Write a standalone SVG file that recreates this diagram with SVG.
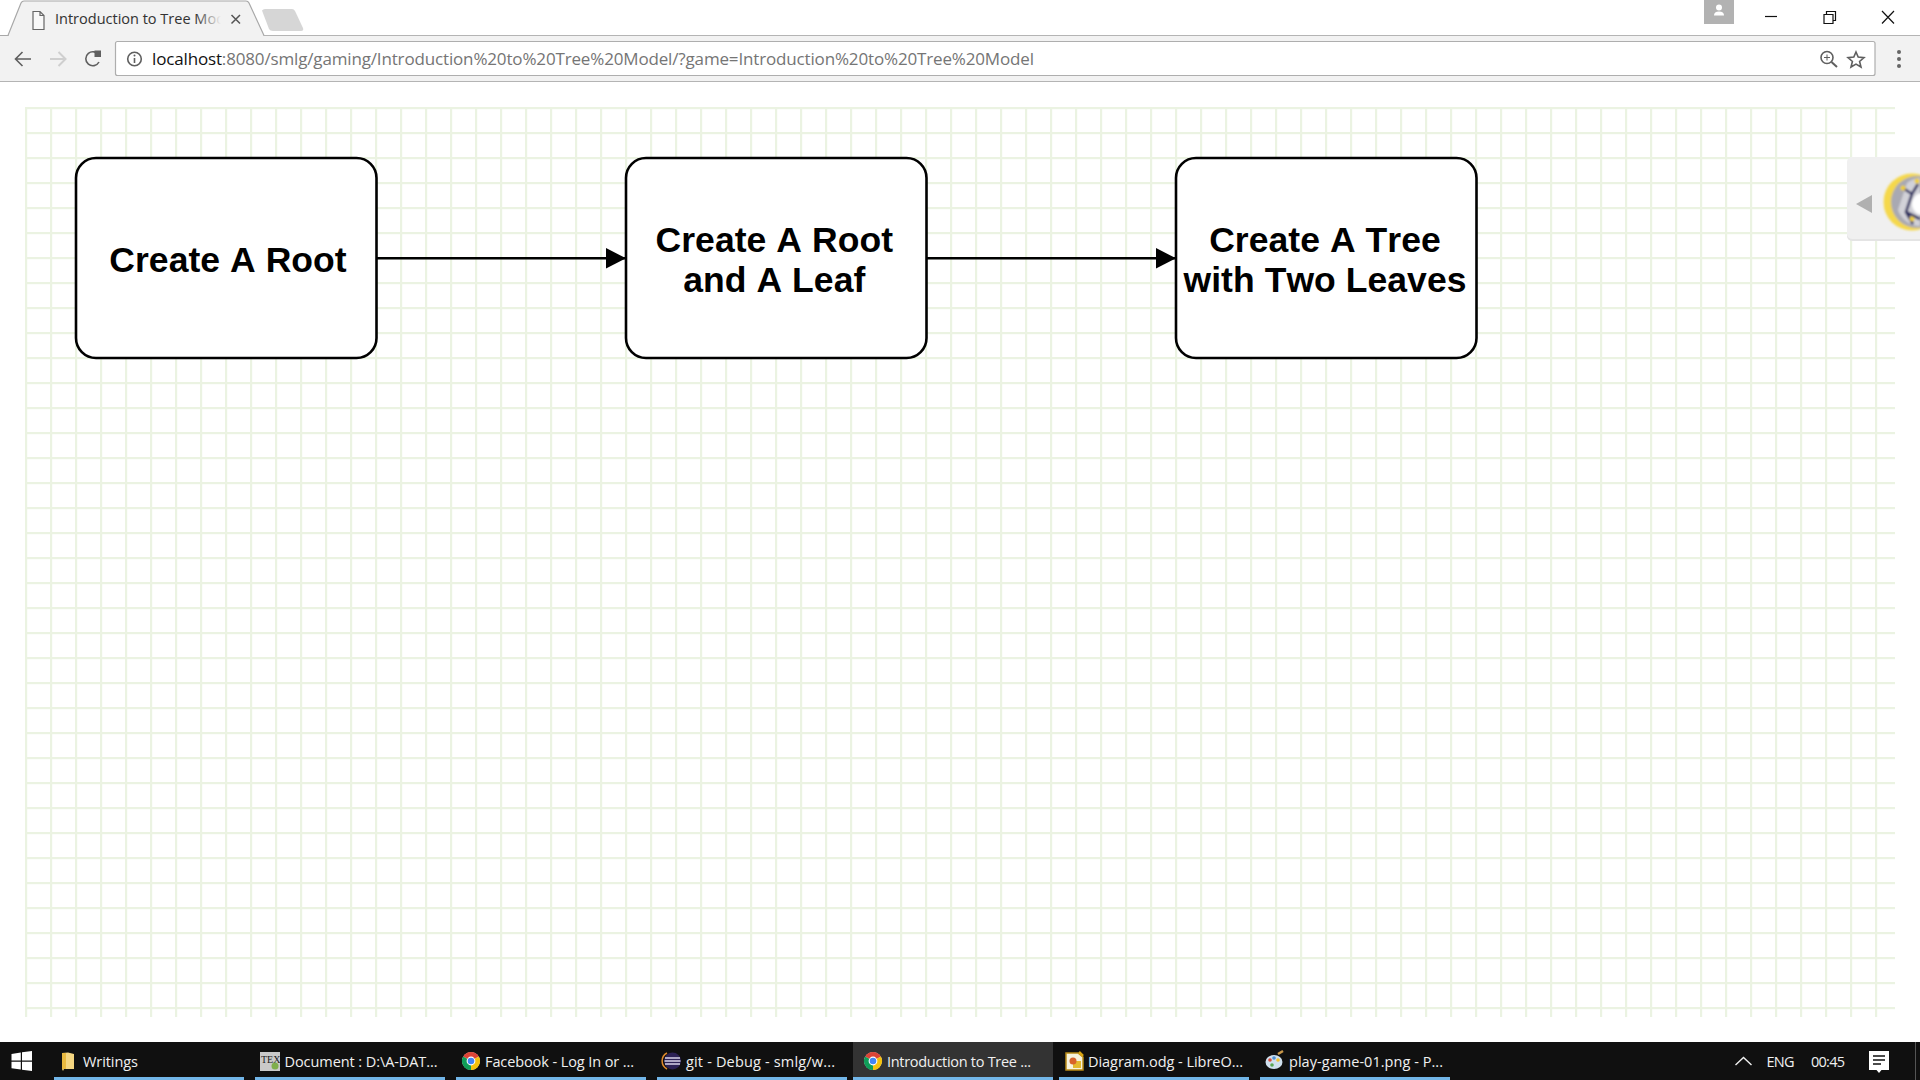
<svg xmlns="http://www.w3.org/2000/svg" xmlns:xlink="http://www.w3.org/1999/xlink" width="1920" height="1080" viewBox="0 0 1920 1080">
<style>
.ui{font-family:"Open Sans","Noto Sans","Liberation Sans",sans-serif}
.tb{font-size:14.5px;fill:#f0f0f0}
.node{fill:#fff;stroke:#000;stroke-width:2.6}
.lbl{font-family:"Liberation Sans",Arial,sans-serif;font-weight:700;font-size:35.5px;letter-spacing:.06px;font-kerning:none;fill:#000;text-anchor:middle}
.edge{stroke:#000;stroke-width:2.6;fill:none;marker-end:url(#tip)}
.ul{fill:#72b6e8}
.ic{fill:none;stroke:#5f5f5f;stroke-width:1.6}
.win{fill:none;stroke:#111;stroke-width:1.2}
</style>
<defs>
<pattern id="grid" x="25" y="107" width="25" height="25" patternUnits="userSpaceOnUse">
<rect width="2.200" height="25" fill="#ebf3e2"/><rect width="25" height="2.200" fill="#ebf3e2"/>
</pattern>
<filter id="soft" x="-10%" y="-10%" width="120%" height="120%"><feGaussianBlur stdDeviation="0.800"/></filter>
<marker id="tip" markerUnits="userSpaceOnUse" markerWidth="22" markerHeight="22" refX="20.5" refY="11" orient="auto">
<path d="M0 0.5L20.5 11L0 21.5Z" fill="#000"/>
</marker>
<linearGradient id="fade" gradientUnits="userSpaceOnUse" x1="196" y1="0" x2="221" y2="0">
<stop offset="0" stop-color="#333"/><stop offset="1" stop-color="#f2f2f2"/>
</linearGradient>
<g id="chrome">
<circle r="9" fill="#e8e8e8"/>
<path d="M0 0L-7.8 -4.5A9 9 0 0 1 7.8 -4.5Z" fill="#db4437"/>
<path d="M0 0L7.8 -4.5A9 9 0 0 1 0 9Z" fill="#f4c20d"/>
<path d="M0 0L0 9A9 9 0 0 1 -7.8 -4.5Z" fill="#0f9d58"/>
<circle r="4.4" fill="#fff"/><circle r="3.3" fill="#4285f4"/>
</g>
</defs>
<rect width="1920" height="1080" fill="#fff"/>

<g id="browser-chrome">
<rect x="0" y="35" width="1920" height="47" fill="#f2f2f2"/>
<path d="M0 35.500H1920M0 81.500H1920" stroke="#b4b4b4" stroke-width="1.200" fill="none"/>
<path d="M0 35.500H8L21 3Q22 1 24 1H246Q248 1 249 3L264 35.500" fill="#f2f2f2" stroke="#a8a8a8" stroke-width="1.200"/>
<rect x="9" y="35" width="254" height="2" fill="#f2f2f2"/>
<path d="M33 11.500H40L44 15.500V29.500H33ZM40 11.500V15.500H44" fill="#f8f8f8" stroke="#666" stroke-width="1.200"/>
<text class="ui" x="55" y="24" font-size="14.500" fill="url(#fade)" textLength="170">Introduction to Tree Mod</text>
<path d="M231.500 15L240 23.500M240 15L231.500 23.500" stroke="#555" stroke-width="1.500" fill="none"/>
<path d="M262 10.500Q263 9 265 9H292Q294 9 295 11L303 28Q304 31 301 31H273Q270 31 269 29Z" fill="#d6d6d6"/>
<path d="M31 59H16M22.500 52L15.500 59L22.500 66" class="ic" stroke-width="2"/>
<path d="M50 59H65M58.500 52L65.500 59L58.500 66" fill="none" stroke="#cfcfcf" stroke-width="2"/>
<path d="M99 62A7 7 0 1 1 99 55.500" class="ic" stroke-width="2.200"/>
<path d="M94.500 50.500H101V57H94.500Z" fill="#5f5f5f"/>
<rect x="115.500" y="41.500" width="1759.500" height="34" rx="2" fill="#fff" stroke="#aeaeae" stroke-width="1.200"/>
<circle cx="134.500" cy="59" r="6.800" class="ic"/>
<circle cx="134.500" cy="55.500" r="1" fill="#5f5f5f"/><rect x="133.700" y="58" width="1.600" height="5" fill="#5f5f5f"/>
<text class="ui" x="152" y="65" font-size="17px" fill="#757575" textLength="882"><tspan fill="#111">localhost</tspan>:8080/smlg/gaming/Introduction%20to%20Tree%20Model/?game=Introduction%20to%20Tree%20Model</text>
<circle cx="1827" cy="57.500" r="6" class="ic"/>
<path d="M1831.500 62L1837 67" stroke="#5f5f5f" stroke-width="2" fill="none"/>
<path d="M1824 57.500H1830M1827 54.500V60.500" stroke="#5f5f5f" stroke-width="1" fill="none"/>
<path d="M1856 52L1858.200 57L1864 57.700L1859.600 61.500L1861 67L1856 64.100L1851 67L1852.400 61.500L1848 57.700L1853.800 57Z" class="ic"/>
<circle cx="1899" cy="52" r="2" fill="#666"/><circle cx="1899" cy="59" r="2" fill="#666"/><circle cx="1899" cy="66" r="2" fill="#666"/>
<rect x="1704" y="0" width="30" height="24" fill="#b2b2b2"/>
<circle cx="1719" cy="7.500" r="3" fill="#fff"/><path d="M1714 15.500Q1714 11.500 1719 11.500Q1724 11.500 1724 15.500Z" fill="#fff"/>
<path d="M1765 16.500H1777" class="win"/>
<path d="M1824 14.500H1833V23.500H1824ZM1826.500 14.500V11.500H1835.500V20.500H1833" class="win"/>
<path d="M1882 11L1894 23.500M1894 11L1882 23.500" class="win"/>
</g>

<rect id="grid-paper" x="25" y="107" width="1870" height="910" fill="url(#grid)"/>

<g id="side-panel">
<rect x="1847" y="159" width="80" height="82" rx="5" fill="#e4e4e4"/>
<rect x="1847" y="157" width="80" height="82" rx="5" fill="#f0f0f0"/>
<path d="M1872 195V213L1856 204Z" fill="#b0b0b0"/>
<g filter="url(#soft)">
<circle cx="1912" cy="202" r="28.500" fill="#f5d84c"/>
<circle cx="1917" cy="202" r="26" fill="#a9a9b2"/>
<path d="M1907 183A24 24 0 0 1 1920 178V226A24 24 0 0 1 1898 210Z" fill="#d2d2d8"/>
<circle cx="1923" cy="204" r="11" fill="#fff"/>
<path d="M1903 188L1912 194L1918 184M1912 194L1906 212L1913 224M1906 212L1920 219" fill="none" stroke="#2c2c5e" stroke-width="2.600"/>
<circle cx="1903" cy="188" r="2.500" fill="#f0cf30"/><circle cx="1917" cy="181" r="2.500" fill="#f0cf30"/><circle cx="1912" cy="219" r="2.500" fill="#f0cf30"/>
</g>
</g>

<g id="connectors">
<path class="edge" d="M376.700 258.300H626"/>
<path class="edge" d="M926.500 258.300H1176"/>
</g>

<g id="node-create-root">
<rect class="node" x="76" y="158" width="300.500" height="200" rx="20"/>
<text class="lbl" x="228" y="272">Create A Root</text>
</g>
<g id="node-create-root-leaf">
<rect class="node" x="626" y="158" width="300.500" height="200" rx="20"/>
<text class="lbl" x="774.300" y="252">Create A Root</text>
<text class="lbl" x="774.300" y="292">and A Leaf</text>
</g>
<g id="node-create-tree">
<rect class="node" x="1176" y="158" width="300.500" height="200" rx="20"/>
<text class="lbl" x="1325" y="252">Create A Tree</text>
<text class="lbl" x="1325" y="292">with Two Leaves</text>
</g>

<g id="taskbar">
<rect x="0" y="1042" width="1920" height="38" fill="#101010"/>
<rect x="853" y="1042" width="200" height="38" fill="#333"/>
<rect class="ul" x="54" y="1077" width="190" height="3"/>
<rect class="ul" x="255" y="1077" width="190" height="3"/>
<rect class="ul" x="456" y="1077" width="190" height="3"/>
<rect class="ul" x="657" y="1077" width="190" height="3"/>
<rect class="ul" x="853" y="1077" width="200" height="3"/>
<rect class="ul" x="1059" y="1077" width="190" height="3"/>
<rect class="ul" x="1260" y="1077" width="190" height="3"/>
<rect x="1915" y="1042" width="1" height="38" fill="#555"/>
<path d="M11.500 1054L20.800 1052.500V1060.500H11.500ZM22 1052.300L32 1051V1060.500H22ZM11.500 1061.700H20.800V1069.500L11.500 1068.200ZM22 1061.700H32V1071L22 1069.700Z" fill="#fff"/>
<path d="M62 1053L68 1052.500L74 1054V1069H64L63 1071L62 1069Z" fill="#f5d681"/><rect x="62" y="1053" width="4" height="16" fill="#e9b93f"/>
<rect x="260" y="1052" width="20" height="19" fill="#c9c9c9"/>
<text x="261" y="1063" font-family="'Liberation Serif',serif" font-size="10px" fill="#222">TEX</text>
<circle cx="275" cy="1066" r="3.500" fill="#7fae4c"/>
<use xlink:href="#chrome" href="#chrome" x="471" y="1061"/>
<circle cx="672.500" cy="1061" r="8.500" fill="#2c2255"/>
<path d="M665 1058H680M664.500 1061H680.500M665 1064H680" stroke="#d8d4e8" stroke-width="1.300" fill="none"/>
<path d="M667 1053A9 9 0 0 0 667 1069" stroke="#e08a2c" stroke-width="1.500" fill="none"/>
<use xlink:href="#chrome" href="#chrome" x="873" y="1061"/>
<path d="M1066 1053H1078L1083 1057V1070H1066Z" fill="#f7f2dc" stroke="#b98a16" stroke-width="1.500"/>
<path d="M1079 1052L1083 1056" stroke="#d9a514" stroke-width="2.500"/>
<rect x="1073" y="1061" width="8" height="7" fill="#e3b92f"/><circle cx="1073" cy="1061" r="3.500" fill="#d8622b"/>
<ellipse cx="1274" cy="1062" rx="8.500" ry="7" fill="#cfe0ee"/>
<circle cx="1270" cy="1060" r="1.800" fill="#d84c3b"/><circle cx="1274" cy="1058" r="1.800" fill="#4f8fd0"/><circle cx="1278" cy="1060" r="1.800" fill="#f0c232"/><circle cx="1272" cy="1065" r="1.800" fill="#5aa555"/>
<path d="M1278 1054L1283 1051" stroke="#c9984a" stroke-width="2.500"/>
<text class="ui tb" x="83" y="1067" textLength="55">Writings</text>
<text class="ui tb" x="284.500" y="1067" textLength="153">Document : D:\A-DAT...</text>
<text class="ui tb" x="485" y="1067" textLength="149">Facebook - Log In or ...</text>
<text class="ui tb" x="686" y="1067" textLength="149">git - Debug - smlg/w...</text>
<text class="ui tb" x="887" y="1067" textLength="144">Introduction to Tree ...</text>
<text class="ui tb" x="1088" y="1067" textLength="155">Diagram.odg - LibreO...</text>
<text class="ui tb" x="1289" y="1067" textLength="154">play-game-01.png - P...</text>
<path d="M1735.500 1065L1743.500 1057.500L1751.500 1065" fill="none" stroke="#f0f0f0" stroke-width="1.400"/>
<text class="ui tb" x="1766.500" y="1067" font-size="13.500px" textLength="28">ENG</text>
<text class="ui tb" x="1811" y="1067" font-size="13.500px" textLength="34">00:45</text>
<path d="M1869 1051H1889V1070H1881.500L1879 1073L1876.500 1070H1869Z" fill="#fff"/>
<path d="M1873 1056H1885M1873 1060H1885M1873 1064H1881" stroke="#111" stroke-width="1.300" fill="none"/>
</g>
</svg>
